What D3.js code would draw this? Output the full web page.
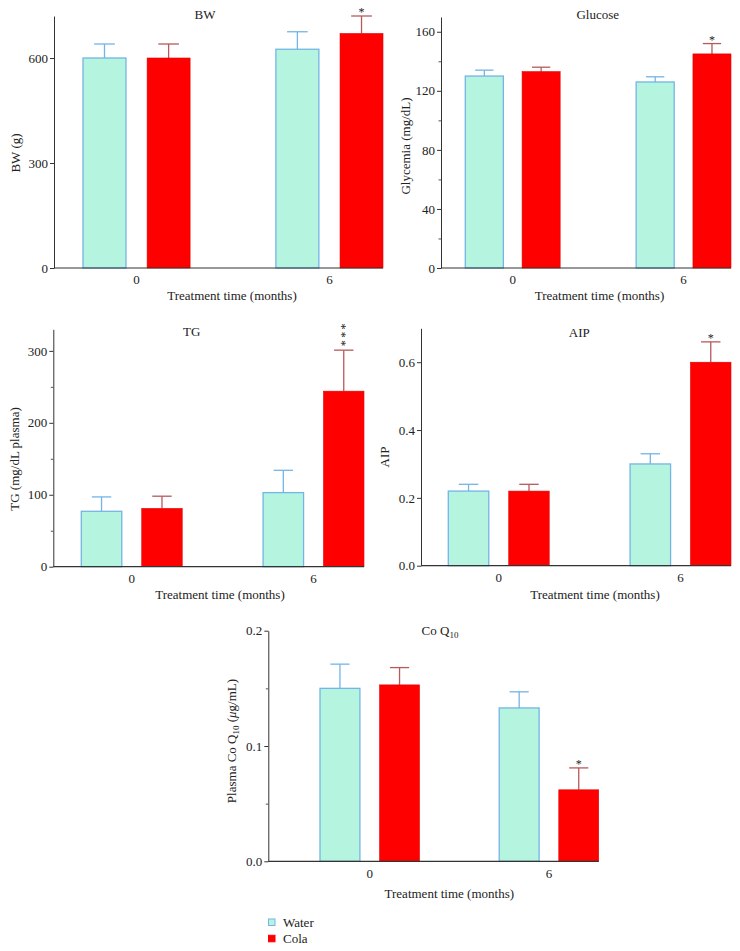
<!DOCTYPE html>
<html>
<head>
<meta charset="utf-8">
<script src="https://cdn.jsdelivr.net/npm/d3@7"></script>
<style>
  html, body { margin: 0; padding: 0; background: #fff; }
  svg { display: block; }
  text { font-family: "Liberation Serif", "DejaVu Serif", serif; fill: #222; }
</style>
</head>
<body>
<div id="chart"></div>
<script>
// ---------- DATA ----------
const categories = ["0", "6"];
const series = ["Water", "Cola"];

const bwMean = [[600, 600], [625, 670]];
const bwErr = [[40, 40], [50, 50]];
const bwSig = [["", ""], ["", "*"]];
const bwTicks = [0, 300, 600];
const bwMinor = [];

const gluMean = [[130, 133], [126, 145]];
const gluErr = [[4, 3], [3.5, 7]];
const gluSig = [["", ""], ["", "*"]];
const gluTicks = [0, 40, 80, 120, 160];
const gluMinor = [20, 60, 100, 140];

const tgMean = [[77, 81], [103, 244]];
const tgErr = [[20, 17], [31, 57]];
const tgSig = [["", ""], ["", "***"]];
const tgTicks = [0, 100, 200, 300];
const tgMinor = [50, 150, 250];

const aipMean = [[0.22, 0.22], [0.30, 0.60]];
const aipErr = [[0.02, 0.02], [0.03, 0.06]];
const aipSig = [["", ""], ["", "*"]];
const aipTicks = [0.0, 0.2, 0.4, 0.6];
const aipMinor = [];

const coqMean = [[0.150, 0.153], [0.133, 0.062]];
const coqErr = [[0.021, 0.015], [0.014, 0.019]];
const coqSig = [["", ""], ["", "*"]];
const coqTicks = [0.0, 0.1, 0.2];
const coqMinor = [0.05, 0.15];

const xTitle = "Treatment time (months)";

// ---------- STYLE ----------
const waterFill = "#b5f5e0", waterStroke = "#74b4e6";
const colaFill = "#ff0000", colaErrColor = "#b65a5a";

// ---------- LAYOUT ----------
const panels = [
  { title: "BW", ylabel: "BW (g)", mean: bwMean, err: bwErr, sig: bwSig, ticks: bwTicks, minor: bwMinor, max: 720, fmt: d3.format("d"),
    ax: 54, base: 268, top: 16, gL: 83, gR: 383, titleX: 205, titleY: 19, ylabX: 20, ylabY: 153, xlabX: 232, xlabY: 300 },
  { title: "Glucose", ylabel: "Glycemia (mg/dL)", mean: gluMean, err: gluErr, sig: gluSig, ticks: gluTicks, minor: gluMinor, max: 170, fmt: d3.format("d"),
    ax: 441, base: 268, top: 17, gL: 465.3, gR: 731, titleX: 597.7, titleY: 19, ylabX: 409.5, ylabY: 146, xlabX: 599.5, xlabY: 300 },
  { title: "TG", ylabel: "TG (mg/dL plasma)", mean: tgMean, err: tgErr, sig: tgSig, ticks: tgTicks, minor: tgMinor, max: 330, fmt: d3.format("d"),
    ax: 53.3, base: 566.7, top: 329.3, gL: 81.3, gR: 364, titleX: 191.7, titleY: 336, ylabX: 18.5, ylabY: 459, xlabX: 220, xlabY: 599 },
  { title: "AIP", ylabel: "AIP", mean: aipMean, err: aipErr, sig: aipSig, ticks: aipTicks, minor: aipMinor, max: 0.7, fmt: d3.format(".1f"),
    ax: 421, base: 565.7, top: 328.3, gL: 448.3, gR: 731, titleX: 579.3, titleY: 337, ylabX: 389, ylabY: 457, xlabX: 595, xlabY: 599 },
  { title: "CoQ", ylabel: "CoQ", mean: coqMean, err: coqErr, sig: coqSig, ticks: coqTicks, minor: coqMinor, max: 0.2, fmt: d3.format(".1f"),
    ax: 268.3, base: 861.3, top: 630.7, gL: 320, gR: 598.7, titleX: 440, titleY: 635, ylabX: 236, ylabY: 741, xlabX: 449.3, xlabY: 898 }
];

const svg = d3.select("#chart").append("svg").attr("width", 740).attr("height", 951);

panels.forEach((p) => {
  const g = svg.append("g");
  const y = d3.scaleLinear().domain([0, p.max]).range([p.base, p.top]);
  const span = p.gR - p.gL;
  const bandW = span * 0.357;
  const x0 = d3.scaleBand().domain(categories).range([p.gL, p.gR]).paddingInner(1 - bandW / (span - bandW)).paddingOuter(0);
  const x1 = d3.scaleBand().domain(series).range([0, x0.bandwidth()]).paddingInner(0.33).paddingOuter(0);

  categories.forEach((c, ci) => {
    series.forEach((s, si) => {
      const v = p.mean[ci][si], e = p.err[ci][si];
      const bx = x0(c) + x1(s), bw = x1.bandwidth();
      const cx = bx + bw / 2;
      const isWater = si === 0;
      const ecol = isWater ? waterStroke : colaErrColor;
      g.append("line").attr("x1", cx).attr("x2", cx).attr("y1", y(v)).attr("y2", y(v + e))
        .attr("stroke", ecol).attr("stroke-width", 1.3);
      g.append("line").attr("x1", cx - bw * 0.24).attr("x2", cx + bw * 0.24).attr("y1", y(v + e)).attr("y2", y(v + e))
        .attr("stroke", ecol).attr("stroke-width", 1.3);
      g.append("rect").attr("x", bx).attr("y", y(v)).attr("width", bw).attr("height", y(0) - y(v))
        .attr("fill", isWater ? waterFill : colaFill)
        .attr("stroke", isWater ? waterStroke : "#e00000").attr("stroke-width", isWater ? 1.3 : 0.6);
      const sig = p.sig[ci][si];
      if (sig) {
        const n = sig.length;
        if (n === 1) {
          g.append("text").attr("x", cx).attr("y", y(v + e)).attr("text-anchor", "middle")
            .attr("font-size", 12).text(sig);
        } else {
          // stacked vertically: one rotated text element
          const cy = y(v + e) - 7 - (n - 1) / 2 * 8.3;
          g.append("text").attr("transform", `translate(${cx + 5.2},${cy}) rotate(-90)`)
            .attr("text-anchor", "middle").attr("font-size", 12).attr("letter-spacing", 2.3)
            .attr("dx", 1.15).text(sig);
        }
      }
    });
  });

  const yAxis = d3.axisLeft(y).tickValues(p.ticks).tickFormat(p.fmt).tickSize(4).tickSizeOuter(0).tickPadding(2);
  const ya = g.append("g").attr("transform", `translate(${p.ax},0)`).call(yAxis);
  ya.selectAll("text").attr("font-size", 13).style("font-family", '"Liberation Serif", serif').attr("fill", "#222");
  ya.selectAll("line").attr("stroke", "#333");
  ya.select(".domain").attr("stroke", "#333");
  if (p.minor.length) {
    const yMinor = d3.axisLeft(y).tickValues(p.minor).tickFormat("").tickSize(2.5).tickSizeOuter(0);
    const ym = g.append("g").attr("transform", `translate(${p.ax},0)`).call(yMinor);
    ym.select(".domain").remove();
    ym.selectAll("line").attr("stroke", "#555");
  }
  g.append("line").attr("x1", p.ax).attr("x2", p.gR).attr("y1", p.base).attr("y2", p.base)
    .attr("stroke", "#333").attr("stroke-width", 1.2);
  const xAxis = d3.axisBottom(x0).tickSize(0).tickPadding(7);
  const xa = g.append("g").attr("transform", `translate(0,${p.base})`).call(xAxis);
  xa.select(".domain").remove();
  xa.selectAll("text").attr("font-size", 13).style("font-family", '"Liberation Serif", serif').attr("fill", "#222");

  const t = g.append("text").attr("x", p.titleX).attr("y", p.titleY).attr("text-anchor", "middle").attr("font-size", 13);
  if (p.title === "CoQ") {
    t.append("tspan").text("Co Q");
    t.append("tspan").attr("font-size", 9).attr("dy", 3).text("10");
  } else t.text(p.title);

  const yl = g.append("text").attr("transform", `translate(${p.ylabX},${p.ylabY}) rotate(-90)`)
    .attr("text-anchor", "middle").attr("font-size", 13);
  if (p.ylabel === "CoQ") {
    yl.append("tspan").text("Plasma Co Q");
    yl.append("tspan").attr("font-size", 9).attr("dy", 3).text("10");
    yl.append("tspan").attr("dy", -3).text(" (");
    yl.append("tspan").attr("font-style", "italic").text("\u03BC");
    yl.append("tspan").text("g/mL)");
  } else yl.text(p.ylabel);

  g.append("text").attr("x", p.xlabX).attr("y", p.xlabY).attr("text-anchor", "middle").attr("font-size", 13).text(xTitle);
});

const legend = svg.append("g");
series.forEach((s, i) => {
  const isWater = i === 0;
  legend.append("rect").attr("x", 268.5).attr("y", 919 + i * 16.3).attr("width", 6.5).attr("height", 6.5)
    .attr("fill", isWater ? waterFill : colaFill).attr("stroke", isWater ? waterStroke : colaFill).attr("stroke-width", 1);
  legend.append("text").attr("x", 283).attr("y", 927 + i * 16.3).attr("font-size", 13).text(s);
});
</script>
</body>
</html>
